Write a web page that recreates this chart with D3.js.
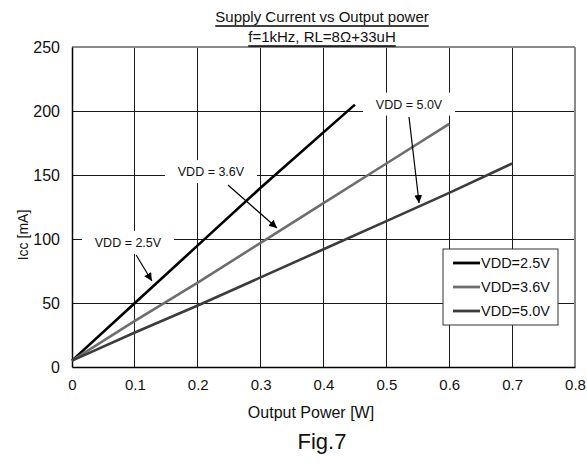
<!DOCTYPE html>
<html>
<head>
<meta charset="utf-8">
<script src="https://cdn.jsdelivr.net/npm/d3@7/dist/d3.min.js"></script>
<style>
  html, body { margin: 0; padding: 0; background: #fff; }
  svg { display: block; }
  text { font-family: "Liberation Sans", Arial, sans-serif; fill: #111; }
</style>
</head>
<body>
<svg id="chart" width="587" height="466"></svg>
<script>
// ---- data ----
const titleLines = ["Supply Current vs Output power", "f=1kHz, RL=8\u03A9+33uH"];
const xLabel = "Output Power [W]";
const yLabel = "Icc [mA]";
const figLabel = "Fig.7";
const xTicks = [0, 0.1, 0.2, 0.3, 0.4, 0.5, 0.6, 0.7, 0.8];
const yTicks = [0, 50, 100, 150, 200, 250];

const seriesNames = ["VDD=2.5V", "VDD=3.6V", "VDD=5.0V"];
const x25 = [0, 0.1, 0.2, 0.3, 0.45];
const y25 = [5, 50, 95, 140, 205];
const x36 = [0, 0.1, 0.2, 0.3, 0.4, 0.5, 0.6];
const y36 = [5, 36, 66, 97, 128, 159, 190];
const x50 = [0, 0.1, 0.2, 0.3, 0.4, 0.5, 0.6, 0.7];
const y50 = [5, 27, 48, 70, 92, 114, 136, 159];

// annotations: label position and arrow (data coords)
const annLabels = ["VDD = 2.5V", "VDD = 3.6V", "VDD = 5.0V"];
const annAt = [[0.089, 97], [0.221, 152.3], [0.536, 205]];
const annFrom = [[0.102, 87.5], [0.248, 142.2], [0.536, 195.3]];
const annTo = [[0.127, 67.2], [0.326, 108.6], [0.552, 128.1]];

// ---- layout ----
const svg = d3.select("#chart");
const L = 72, R = 575, T = 47, B = 367;
const x = d3.scaleLinear().domain([0, 0.8]).range([L, R]);
const y = d3.scaleLinear().domain([0, 250]).range([B, T]);

const colors = ["#000000", "#6e6e6e", "#3c3c3c"];
const series = [
  { name: seriesNames[0], xs: x25, ys: y25, color: colors[0] },
  { name: seriesNames[1], xs: x36, ys: y36, color: colors[1] },
  { name: seriesNames[2], xs: x50, ys: y50, color: colors[2] }
];

// defs
svg.append("defs").append("marker")
  .attr("id", "arrow").attr("viewBox", "0 0 10 10")
  .attr("refX", 10).attr("refY", 5)
  .attr("markerWidth", 8).attr("markerHeight", 8)
  .attr("markerUnits", "userSpaceOnUse")
  .attr("orient", "auto")
  .append("path").attr("d", "M0,0 L10,5 L0,10 z").attr("fill", "#000");

// grid
const grid = svg.append("g");
grid.selectAll("line.v").data(xTicks.slice(1, -1)).join("line")
  .attr("x1", d => x(d)).attr("x2", d => x(d)).attr("y1", T).attr("y2", B)
  .attr("stroke", "#1a1a1a").attr("stroke-width", 1).attr("shape-rendering", "crispEdges");
grid.selectAll("line.h").data(yTicks.slice(1, -1)).join("line")
  .attr("x1", L).attr("x2", R).attr("y1", d => y(d)).attr("y2", d => y(d))
  .attr("stroke", "#1a1a1a").attr("stroke-width", 1).attr("shape-rendering", "crispEdges");

// top & right border (gray)
svg.append("line").attr("x1", L).attr("x2", R).attr("y1", T).attr("y2", T)
  .attr("stroke", "#8a8a8a").attr("stroke-width", 1.5).attr("shape-rendering", "crispEdges");
svg.append("line").attr("x1", R).attr("x2", R).attr("y1", T).attr("y2", B)
  .attr("stroke", "#8a8a8a").attr("stroke-width", 1.5).attr("shape-rendering", "crispEdges");

// axes
const xAxis = d3.axisBottom(x).tickValues(xTicks).tickSize(0).tickPadding(12)
  .tickFormat(d => d === 0 ? "0" : d3.format(".1f")(d));
const gx = svg.append("g").attr("transform", `translate(0,${B})`).call(xAxis);
gx.select(".domain").attr("stroke", "#000").attr("stroke-width", 1.5);
gx.selectAll("text").attr("font-size", 15).attr("fill", "#111")
  .attr("font-family", "Liberation Sans, Arial, sans-serif");

const yAxis = d3.axisLeft(y).tickValues(yTicks).tickSize(0).tickPadding(12);
const gy = svg.append("g").attr("transform", `translate(${L},0)`).call(yAxis);
gy.select(".domain").attr("stroke", "#000").attr("stroke-width", 1.5);
gy.selectAll("text").attr("font-size", 16).attr("fill", "#111")
  .attr("font-family", "Liberation Sans, Arial, sans-serif");

// annotation boxes (white, cut gridlines)
const annG = svg.append("g");
annLabels.forEach((lab, i) => {
  const cx = x(annAt[i][0]), cy = y(annAt[i][1]);
  annG.append("rect").attr("x", cx - 46).attr("y", cy - 12).attr("width", 92).attr("height", 23)
    .attr("fill", "#fff");
});

// series
const line = d3.line().x(d => x(d[0])).y(d => y(d[1]));
series.forEach(s => {
  const pts = s.xs.map((v, i) => [v, s.ys[i]]);
  svg.append("path").datum(pts).attr("d", line)
    .attr("fill", "none").attr("stroke", s.color).attr("stroke-width", 2.6);
});

// annotation texts & arrows
annLabels.forEach((lab, i) => {
  const cx = x(annAt[i][0]), cy = y(annAt[i][1]);
  svg.append("text").attr("x", cx).attr("y", cy).attr("dy", "0.35em")
    .attr("text-anchor", "middle").attr("font-size", 12.5).text(lab);
  svg.append("line")
    .attr("x1", x(annFrom[i][0])).attr("y1", y(annFrom[i][1]))
    .attr("x2", x(annTo[i][0])).attr("y2", y(annTo[i][1]))
    .attr("stroke", "#000").attr("stroke-width", 1.2)
    .attr("marker-end", "url(#arrow)");
});

// legend
const lg = svg.append("g").attr("transform", "translate(443,249)");
lg.append("rect").attr("x", 0).attr("y", 0).attr("width", 115).attr("height", 76)
  .attr("fill", "#fff").attr("stroke", "#333").attr("stroke-width", 1);
series.forEach((s, i) => {
  const yy = 14 + i * 24;
  lg.append("line").attr("x1", 10).attr("x2", 37).attr("y1", yy).attr("y2", yy)
    .attr("stroke", s.color).attr("stroke-width", 2.8);
  lg.append("text").attr("x", 38).attr("y", yy).attr("dy", "0.36em")
    .attr("font-size", 14.5).text(s.name);
});

// titles
const tcx = 322;
const t1 = svg.append("text").attr("x", tcx).attr("y", 22).attr("text-anchor", "middle")
  .attr("font-size", 15).text(titleLines[0]);
const t2 = svg.append("text").attr("x", tcx).attr("y", 42).attr("text-anchor", "middle")
  .attr("font-size", 15).text(titleLines[1]);
[t1, t2].forEach((t, i) => {
  const bb = t.node().getBBox();
  svg.append("line").attr("x1", bb.x).attr("x2", bb.x + bb.width)
    .attr("y1", i === 0 ? 26 : 46).attr("y2", i === 0 ? 26 : 46)
    .attr("stroke", "#000").attr("stroke-width", 1.3);
});

// axis titles
svg.append("text").attr("x", 311).attr("y", 418).attr("text-anchor", "middle")
  .attr("font-size", 16).text(xLabel);
svg.append("text").attr("transform", "translate(28,235) rotate(-90)")
  .attr("text-anchor", "middle").attr("font-size", 14).text(yLabel);
svg.append("text").attr("x", 322).attr("y", 449).attr("text-anchor", "middle")
  .attr("font-size", 22).text(figLabel);
</script>
</body>
</html>
